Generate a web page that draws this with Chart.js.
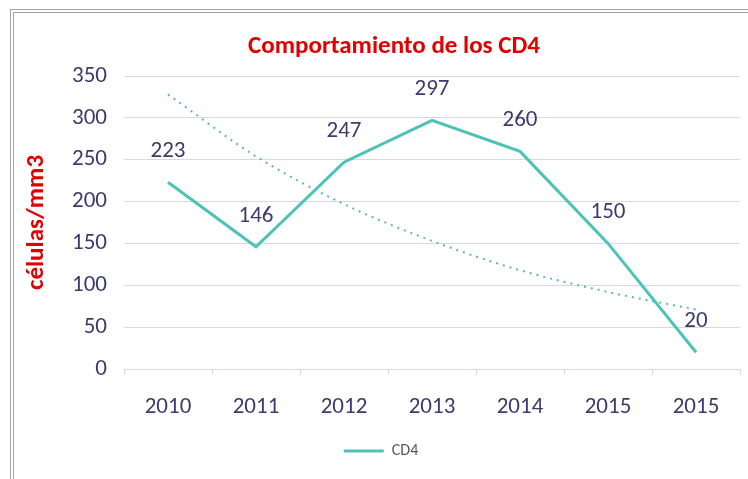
<!DOCTYPE html>
<html>
<head>
<meta charset="utf-8">
<script src="https://cdn.jsdelivr.net/npm/chart.js@4.4.1/dist/chart.umd.min.js"></script>
<style>
  html, body { margin: 0; padding: 0; background: #ffffff; }
  #wrap { position: relative; width: 748px; height: 479px; overflow: hidden; }
  #c { position: absolute; left: 0; top: 0; }
  #frame { position: absolute; left: 10px; top: 9px; width: 800px; height: 600px;
           border-left: 4px double #a3a3a3; border-top: 4px double #a3a3a3; pointer-events: none; }
</style>
</head>
<body>
<div id="wrap">
  <canvas id="c" width="748" height="479"></canvas>
  <div id="frame"></div>
</div>
<script>
const categories = ['2010', '2011', '2012', '2013', '2014', '2015', '2015'];
const cd4Values = [223, 146, 247, 297, 260, 150, 20];
// dotted trend line values
const trendValues = [328, 254, 197, 153, 118, 92, 71];
const yTicks = [0, 50, 100, 150, 200, 250, 300, 350];
const chartTitle = 'Comportamiento de los CD4';
const yTitle = 'células/mm3';

const FONT = "Carlito, 'Liberation Sans Narrow', 'Open Sans', sans-serif";
const NAVY = '#3c3a6e';
const RED = '#e00000';
const TEAL = '#4cc3b5';
const LAV = '#d6d6ec';

const dataLabels = {
  id: 'dataLabels',
  afterDatasetsDraw(chart) {
    const ctx = chart.ctx;
    const meta = chart.getDatasetMeta(0);
    ctx.save();
    ctx.font = '23px ' + FONT;
    ctx.fillStyle = NAVY;
    ctx.textAlign = 'center';
    ctx.textBaseline = 'middle';
    meta.data.forEach((pt, i) => {
      ctx.fillText(String(cd4Values[i]), pt.x, pt.y - 31);
    });
    ctx.restore();
  }
};

const titleText = {
  id: 'titleText',
  afterDraw(chart) {
    const ctx = chart.ctx;
    ctx.save();
    ctx.font = 'bold 25px ' + FONT;
    ctx.fillStyle = RED;
    ctx.textAlign = 'center';
    ctx.textBaseline = 'middle';
    ctx.fillText(chartTitle, 394, 47);
    ctx.restore();
  }
};

new Chart(document.getElementById('c'), {
  type: 'line',
  data: {
    labels: categories,
    datasets: [
      {
        label: 'CD4',
        data: cd4Values,
        borderColor: TEAL,
        backgroundColor: TEAL,
        borderWidth: 3,
        pointRadius: 0,
        tension: 0,
        order: 1
      },
      {
        label: 'trend',
        data: trendValues,
        borderColor: '#5fb6ae',
        borderWidth: 2,
        borderDash: [2, 5],
        pointRadius: 0,
        cubicInterpolationMode: 'monotone',
        order: 2
      }
    ]
  },
  options: {
    responsive: false,
    animation: false,
    layout: { padding: { left: 22, right: 8, top: 76, bottom: 10 } },
    plugins: {
      title: { display: false },
      legend: {
        position: 'bottom',
        labels: {
          filter: (item) => item.text === 'CD4',
          usePointStyle: true,
          pointStyle: 'line',
          pointStyleWidth: 40,
          boxHeight: 3,
          color: '#595959',
          font: { family: FONT, size: 16 },
          padding: 10
        }
      },
      tooltip: { enabled: false }
    },
    scales: {
      x: {
        offset: true,
        grid: { offset: true, drawOnChartArea: false, drawTicks: true, tickLength: 6, color: LAV },
        border: { display: true, color: LAV },
        ticks: { color: NAVY, font: { family: FONT, size: 23 }, padding: 18, maxRotation: 0 },
        afterFit(scale) { scale.height = 64; }
      },
      y: {
        min: 0,
        max: 350,
        afterBuildTicks(scale) { scale.ticks = yTicks.map(v => ({ value: v })); },
        grid: { color: LAV, drawTicks: false },
        border: { display: false },
        ticks: { color: NAVY, font: { family: FONT, size: 23 }, padding: 17 },
        title: {
          display: true,
          text: yTitle,
          color: RED,
          font: { family: FONT, size: 25, weight: 'bold' },
          padding: { top: 0, bottom: 0 }
        },
        afterFit(scale) { scale.width = 102; }
      }
    }
  },
  plugins: [dataLabels, titleText]
});
</script>
</body>
</html>
